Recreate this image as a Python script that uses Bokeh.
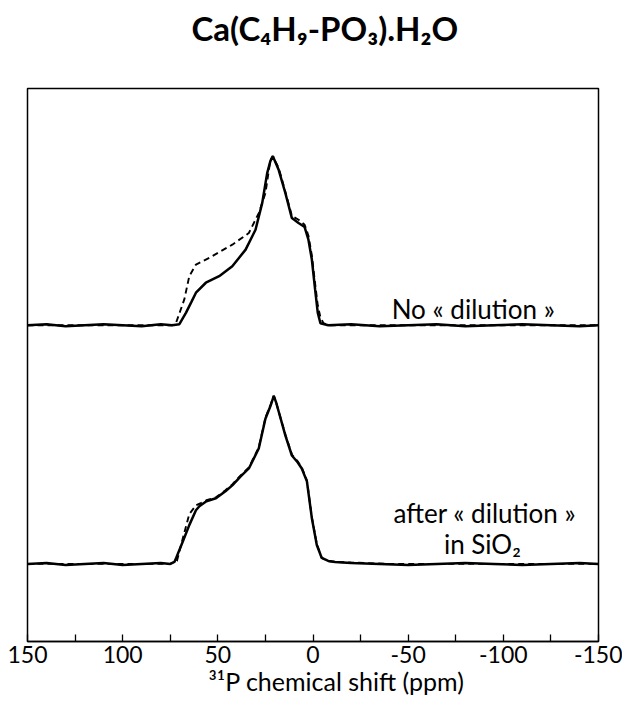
from bokeh.plotting import figure
from bokeh.models import Range1d, FixedTicker, Label, Title
from bokeh.embed import file_html
from bokeh.resources import INLINE

# ---------------- data ----------------
tick_values = [150, 100, 50, 0, -50, -100, -150]
tick_labels = ["150", "100", "50", "0", "-50", "-100", "-150"]
minor_tick_values = [125, 75, 25, -25, -75, -125]

# top spectrum: No « dilution » — experimental (solid)
top_exp_ppm = [150, 140, 130, 120, 110, 100, 90, 80, 74, 70.2,
               66.7, 64.0, 61.5, 56.3, 49.3, 42.4, 35.4, 30.2, 26.7, 24.1,
               22.4, 21.1, 19.8, 18.0, 14.5, 11.1, 7.6, 4.4, 2.4, 0.6,
               -1.1, -2.5, -3.9, -8, -20, -35, -50, -65, -80, -95,
               -110, -125, -140, -150]
top_exp_int = [0, 1, -1, 0, 1, 0, -1, 1, 0, 1,
               12.7, 23, 32.7, 42.7, 49.3, 59.3, 76, 96, 122.7, 152.7,
               165, 170, 164, 156, 132.7, 107.7, 102.7, 98.7, 86, 66,
               36, 12.7, 2, 0, 1, -1, 0, 1, -1, 0,
               1, 0, -1, 0]

# top spectrum: simulated (dashed)
top_sim_ppm = [150, 120, 90, 74, 71.9, 67.6, 65.0, 61.5, 54.5, 42.4,
               33.7, 28.5, 25.0, 22.4, 21.1, 19.8, 18.0, 14.5, 11.1, 7.6,
               4.4, 2.4, 0.6, -1.1, -2.5, -3.9, -5.5, -8, -40, -80,
               -120, -150]
top_sim_int = [0, 0, 0, 0, 2.7, 26, 49.3, 61, 67.7, 81,
               92.7, 112.7, 132.7, 166, 170, 165, 158, 134, 110, 106,
               101, 90, 70, 42, 20, 8, 2, 0, 0, 0,
               0, 0]

# bottom spectrum: after « dilution » in SiO2 — experimental (solid)
bot_exp_ppm = [150, 140, 130, 120, 110, 100, 90, 80, 75, 72.8,
               71.9, 68.5, 65.0, 61.5, 59.7, 56.0, 51.0, 46.0, 42.4, 38.0,
               33.7, 28.5, 25.0, 22.3, 20.6, 19.3, 18.0, 14.5, 11.1, 8.0,
               5.9, 3.2, 0.6, -2.0, -4.6, -8.0, -11.6, -20, -35, -50,
               -65, -80, -95, -110, -125, -140, -150]
bot_exp_int = [0, 1, -1, 0, 1, -1, 0, 1, 0, 2,
               6, 22, 39, 54, 58, 63, 66, 73, 79, 88,
               96, 116, 146, 159, 169, 162, 153, 129, 109, 102,
               96, 83, 46, 19, 6, 3, 2, 1, 0, -1,
               0, 1, 0, -1, 0, 1, 0]

# bottom spectrum: simulated (dashed)
bot_sim_ppm = [150, 120, 90, 75, 71.5, 68.5, 65.0, 61.5, 59.0, 56.0,
               51.0, 46.0, 42.4, 38.0, 33.7, 28.5, 25.0, 22.3, 20.6, 19.3,
               18.0, 14.5, 11.1, 8.0, 5.9, 3.2, 0.6, -2.0, -4.6, -8.0,
               -11.6, -40, -80, -120, -150]
bot_sim_int = [0, 0, 0, 0, 3, 25, 50, 59, 61, 64,
               67, 74, 80, 89, 97, 117, 147, 160, 169, 162,
               153, 130, 110, 103, 97, 84, 47, 20, 6, 3,
               2, 0, 0, 0, 0]

# ---------------- layout / style ----------------
TOP_OFFSET = 318
BOT_OFFSET = 78
FONT = "Lato"

p = figure(width=622, height=697, output_backend="svg", toolbar_location=None,
           x_range=Range1d(150, -150), y_range=Range1d(0, 556),
           min_border_left=27, min_border_right=24,
           min_border_top=88, min_border_bottom=40)
p.grid.visible = False
p.yaxis.visible = False
p.outline_line_color = "black"
p.outline_line_width = 1.5
p.background_fill_color = "white"
p.border_fill_color = "white"

# spacer panel (closest to the frame), then the chart title above it
p.add_layout(Title(text=" ", text_font=FONT, text_font_size="10px",
                   standoff=27), "above")
p.add_layout(Title(text="Ca(C₄H₉-PO₃).H₂O", text_font=FONT, text_font_size="33px",
                   text_font_style="bold", text_color="black", align="left",
                   offset=164, standoff=0), "above")

ax = p.xaxis[0]
ax.ticker = FixedTicker(ticks=tick_values, minor_ticks=minor_tick_values)
ax.major_label_overrides = {v: s for v, s in zip(tick_values, tick_labels)}
ax.major_tick_in = 7
ax.major_tick_out = 0
ax.minor_tick_in = 7
ax.minor_tick_out = 0
ax.major_tick_line_color = "black"
ax.minor_tick_line_color = "black"
ax.major_tick_line_width = 1.3
ax.minor_tick_line_width = 1.3
ax.axis_line_color = "black"
ax.axis_line_width = 1.5
ax.major_label_text_font = FONT
ax.major_label_text_font_size = "23px"
ax.major_label_text_color = "black"
ax.major_label_standoff = 4

p.add_layout(Title(text="³¹P chemical shift (ppm)", text_font=FONT,
                   text_font_size="25px", text_font_style="normal",
                   text_color="black", align="left", offset=181,
                   standoff=0, vertical_align="top"), "below")

def shifted(vals, off):
    return [v + off for v in vals]

p.line(top_exp_ppm, shifted(top_exp_int, TOP_OFFSET), line_color="black", line_width=2.5)
p.line(top_sim_ppm, shifted(top_sim_int, TOP_OFFSET), line_color="black", line_width=1.9,
       line_dash="6 4")
p.line(bot_exp_ppm, shifted(bot_exp_int, BOT_OFFSET), line_color="black", line_width=2.5)
p.line(bot_sim_ppm, shifted(bot_sim_int, BOT_OFFSET), line_color="black", line_width=1.9,
       line_dash="6 4")

def add_label(x, y, text, size):
    p.add_layout(Label(x=x, y=y, text=text, text_font=FONT, text_font_size=size,
                       text_align="center", text_baseline="alphabetic",
                       text_color="black"))

add_label(-84.2, 334, "No « dilution »", "26px")
add_label(-90.3, 129, "after « dilution »", "26px")
add_label(-89.0, 98, "in SiO₂", "26px")

open("out.html", "w").write(file_html(p, INLINE))
